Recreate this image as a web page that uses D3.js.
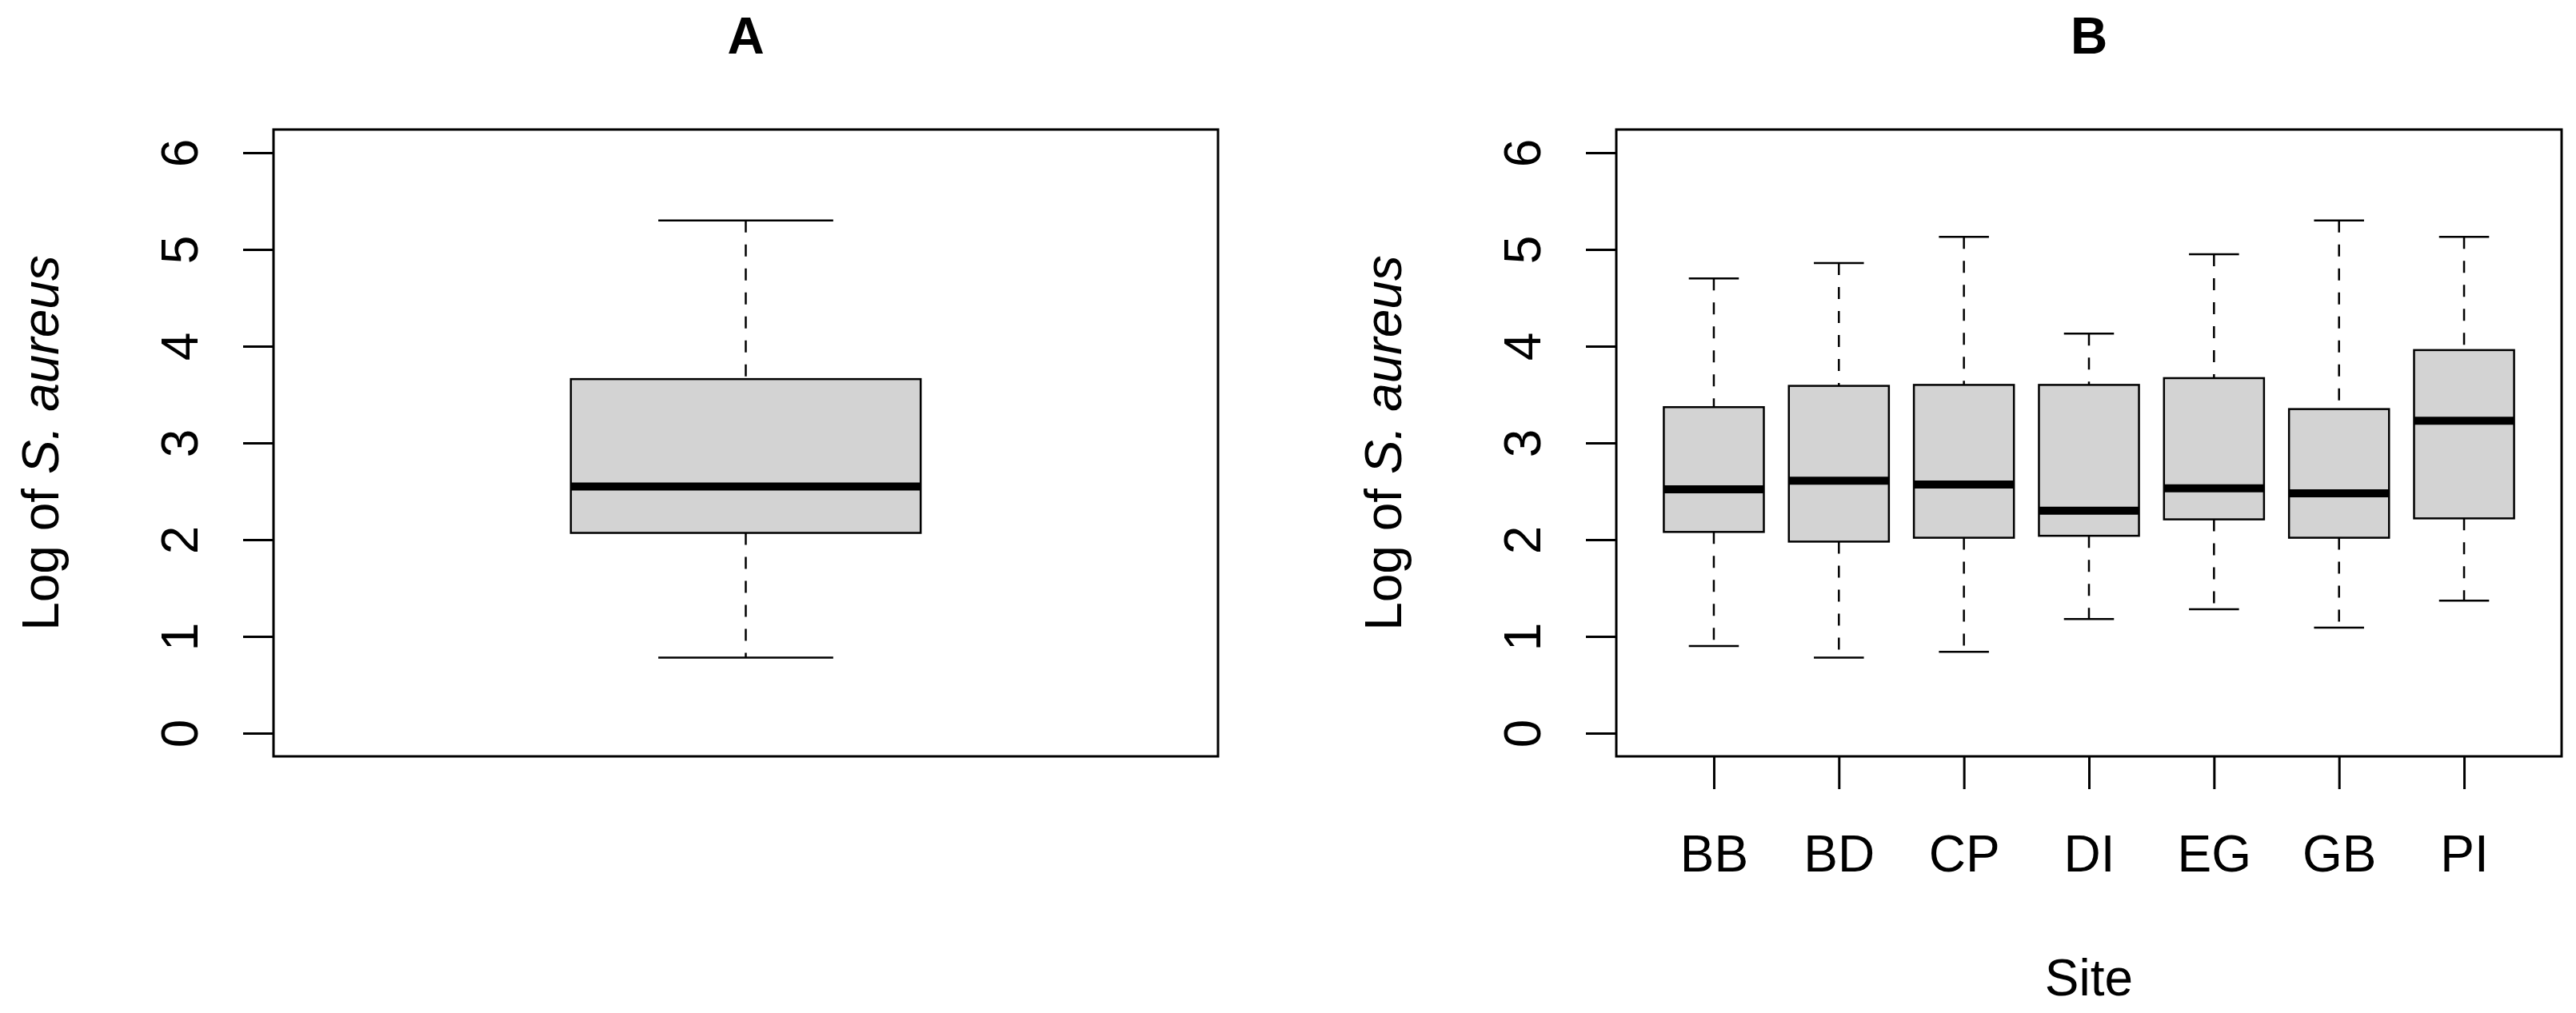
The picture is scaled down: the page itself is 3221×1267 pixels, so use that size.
<!DOCTYPE html>
<html>
<head>
<meta charset="utf-8">
<script src="https://cdn.jsdelivr.net/npm/d3@7"></script>
<style>
  html, body { margin: 0; padding: 0; background: #fff; }
  svg { display: block; }
  text { font-family: "Liberation Sans", Arial, Helvetica, sans-serif; fill: #000; }
</style>
</head>
<body>
<svg id="chart" width="3221" height="1267"></svg>
<script>
// ---- data ----
const panelTitles = ["A", "B"];
const yLabelPlain = "Log of ";
const yLabelItalic = "S. aureus";
const xLabelB = "Site";
const yTicks = [0, 1, 2, 3, 4, 5, 6];

// Panel A: overall distribution [lower whisker, Q1, median, Q3, upper whisker]
const overallStats = [0.78, 2.07, 2.55, 3.66, 5.30];

// Panel B: by site
const sites = ["BB", "BD", "CP", "DI", "EG", "GB", "PI"];
const lowerWhisker = [0.90, 0.78, 0.84, 1.18, 1.28, 1.09, 1.37];
const q1Values     = [2.08, 1.98, 2.02, 2.04, 2.21, 2.02, 2.22];
const medianValues = [2.52, 2.61, 2.57, 2.30, 2.53, 2.48, 3.23];
const q3Values     = [3.37, 3.59, 3.60, 3.60, 3.67, 3.35, 3.96];
const upperWhisker = [4.70, 4.86, 5.13, 4.13, 4.95, 5.30, 5.13];

// ---- layout ----
const svg = d3.select("#chart");
svg.append("rect").attr("width", 3221).attr("height", 1267).attr("fill", "#fff");

const plotTop = 162, plotBottom = 946;
const panels = [
  { left: 342, right: 1523, xdom: [0.46, 1.54], half: 0.2 },
  { left: 2021, right: 3203, xdom: [0.22, 7.78], half: 0.4 }
];
const fontSize = 64;

const y = d3.scaleLinear().domain([-0.24, 6.24]).range([plotBottom, plotTop]);

function drawBox(g, x, pos, st, half) {
  const [lo, q1, med, q3, hi] = st;
  const cap = half / 2;
  // whiskers (dashed)
  g.append("line").attr("x1", x(pos)).attr("x2", x(pos)).attr("y1", y(hi)).attr("y2", y(q3))
    .attr("stroke", "#000").attr("stroke-width", 2.5).attr("stroke-dasharray", "15,15");
  g.append("line").attr("x1", x(pos)).attr("x2", x(pos)).attr("y1", y(q1)).attr("y2", y(lo))
    .attr("stroke", "#000").attr("stroke-width", 2.5).attr("stroke-dasharray", "15,15");
  // caps
  [lo, hi].forEach(v => {
    g.append("line").attr("x1", x(pos - cap)).attr("x2", x(pos + cap)).attr("y1", y(v)).attr("y2", y(v))
      .attr("stroke", "#000").attr("stroke-width", 2.5);
  });
  // box
  g.append("rect").attr("x", x(pos - half)).attr("width", x(pos + half) - x(pos - half))
    .attr("y", y(q3)).attr("height", y(q1) - y(q3))
    .attr("fill", "#D3D3D3").attr("stroke", "#000").attr("stroke-width", 2.5);
  // median
  g.append("line").attr("x1", x(pos - half)).attr("x2", x(pos + half)).attr("y1", y(med)).attr("y2", y(med))
    .attr("stroke", "#000").attr("stroke-width", 10);
}

panels.forEach((p, i) => {
  const g = svg.append("g");
  const x = d3.scaleLinear().domain(p.xdom).range([p.left, p.right]);
  const cx = (p.left + p.right) / 2;

  // boxes
  if (i === 0) {
    drawBox(g, x, 1, overallStats, p.half);
  } else {
    sites.forEach((s, k) => {
      drawBox(g, x, k + 1, [lowerWhisker[k], q1Values[k], medianValues[k], q3Values[k], upperWhisker[k]], p.half);
    });
  }

  // frame
  g.append("rect").attr("x", p.left).attr("y", plotTop)
    .attr("width", p.right - p.left).attr("height", plotBottom - plotTop)
    .attr("fill", "none").attr("stroke", "#000").attr("stroke-width", 3);

  // y axis
  const ya = g.append("g").attr("transform", `translate(${p.left},0)`)
    .call(d3.axisLeft(y).tickValues(yTicks).tickFormat(d3.format("d")).tickSize(38));
  ya.select(".domain").remove();
  ya.selectAll(".tick line").attr("stroke", "#000").attr("stroke-width", 3);
  ya.selectAll(".tick text")
    .attr("x", null).attr("dy", null)
    .attr("transform", "translate(-95,0) rotate(-90)")
    .attr("text-anchor", "middle")
    .attr("font-size", fontSize)
    .attr("font-family", "Liberation Sans, Arial, sans-serif")
    .attr("fill", "#000");

  // y label
  const yl = g.append("text")
    .attr("transform", `translate(${p.left - 269},${(plotTop + plotBottom) / 2}) rotate(-90)`)
    .attr("text-anchor", "middle").attr("font-size", fontSize);
  yl.append("tspan").text(yLabelPlain);
  yl.append("tspan").attr("font-style", "italic").text(yLabelItalic);

  // title
  g.append("text").attr("x", cx).attr("y", 67).attr("text-anchor", "middle")
    .attr("font-size", fontSize).attr("font-weight", "bold").text(panelTitles[i]);

  if (i === 1) {
    const xa = g.append("g").attr("transform", `translate(0,${plotBottom - 1})`)
      .call(d3.axisBottom(x).tickValues(d3.range(1, sites.length + 1))
        .tickFormat(d => sites[d - 1]).tickSize(42));
    xa.select(".domain").remove();
    xa.selectAll(".tick line").attr("stroke", "#000").attr("stroke-width", 3);
    xa.selectAll(".tick text").attr("y", 145).attr("dy", null)
      .attr("font-size", fontSize)
      .attr("font-family", "Liberation Sans, Arial, sans-serif")
      .attr("fill", "#000");
    g.append("text").attr("x", cx).attr("y", 1245).attr("text-anchor", "middle")
      .attr("font-size", fontSize).text(xLabelB);
  }
});
</script>
</body>
</html>
